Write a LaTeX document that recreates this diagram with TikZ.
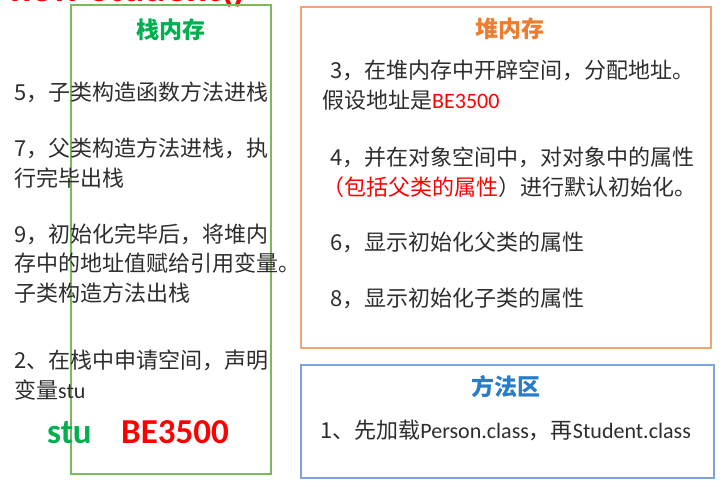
\documentclass[tikz,border=0pt]{standalone}
\usepackage{fontspec}
\setmainfont{Noto Sans CJK SC}
\newfontfamily\latf{Carlito}
\usepackage{tikz}
\usetikzlibrary{positioning}

\definecolor{stackline}{RGB}{125,185,90}
\definecolor{stackgreen}{RGB}{0,176,80}
\definecolor{heapline}{RGB}{241,165,115}
\definecolor{heaporange}{RGB}{237,125,49}
\definecolor{methodline}{RGB}{125,165,220}
\definecolor{methodblue}{RGB}{40,125,200}
\definecolor{txtgray}{RGB}{45,45,45}
\definecolor{addrred}{RGB}{255,0,0}

\begin{document}
\begin{tikzpicture}[x=1pt, y=-1pt,
  area/.style={draw, line width=1.2pt, inner sep=0pt},
  ttl/.style={font=\fontsize{23}{26}\selectfont\bfseries, inner sep=0pt},
  txt/.style={font=\fontsize{22}{29.5}\selectfont, text=txtgray, align=left,
              anchor=base west, inner sep=0pt},
  big/.style={font=\fontsize{35}{40}\selectfont\latf\bfseries, anchor=base west,
              inner sep=0pt},
]
  \useasboundingbox (0,0) rectangle (726,487);

  % heading, cut at the top edge
  \node[big, text=addrred, font=\fontsize{40}{44}\selectfont\latf\bfseries] (call) at (10,2) {new Student()};

  % the three memory areas
  \node[area, draw=stackline, minimum width=200pt, minimum height=469pt] (stack) at (171,239.5) {};
  \node[area, draw=heapline, minimum width=410pt, minimum height=341pt] (heap) at (506,177.5) {};
  \node[area, draw=methodline, minimum width=413pt, minimum height=113pt] (method) at (507.5,421.5) {};

  \node[ttl, text=stackgreen, below=14pt of stack.north] (stacktitle) {栈内存};
  \node[ttl, text=heaporange, below=11pt of heap.north, xshift=4pt] (heaptitle) {堆内存};
  \node[ttl, text=methodblue, below=11pt of method.north, xshift=-2pt] (methodtitle) {方法区};

  % stack (base = last line)
  \node[txt] (s5) at (14,100) {5，子类构造函数方法进栈};
  \node[txt] (s7) at (14,186) {7，父类构造方法进栈，执\\行完毕出栈};
  \node[txt] (s9) at (14,301) {9，初始化完毕后，将堆内\\存中的地址值赋给引用变量。\\子类构造方法出栈};
  \node[txt] (s2) at (14,398) {2、在栈中申请空间，声明\\变量{\latf stu}};
  \node[big, text=stackgreen] (stu) at (47,443) {stu};
  \node[big, text=addrred] (addr) at (121,443) {BE3500};

  % heap
  \node[txt] (h3) at (322,108) {\hspace{8pt}3，在堆内存中开辟空间，分配地址。\\假设地址是{\latf\color{addrred}BE3500}};
  \node[txt] (h4) at (322,195) {\hspace{8pt}4，并在对象空间中，对对象中的属性\\{\color{addrred}（包括父类的属性}）进行默认初始化。};
  \node[txt] (h6) at (330,250) {6，显示初始化父类的属性};
  \node[txt] (h8) at (330,306) {8，显示初始化子类的属性};

  % method area
  \node[txt] (m1) at (320,438) {1、先加载{\latf Person.class}，再{\latf Student.class}};
\end{tikzpicture}
\end{document}
